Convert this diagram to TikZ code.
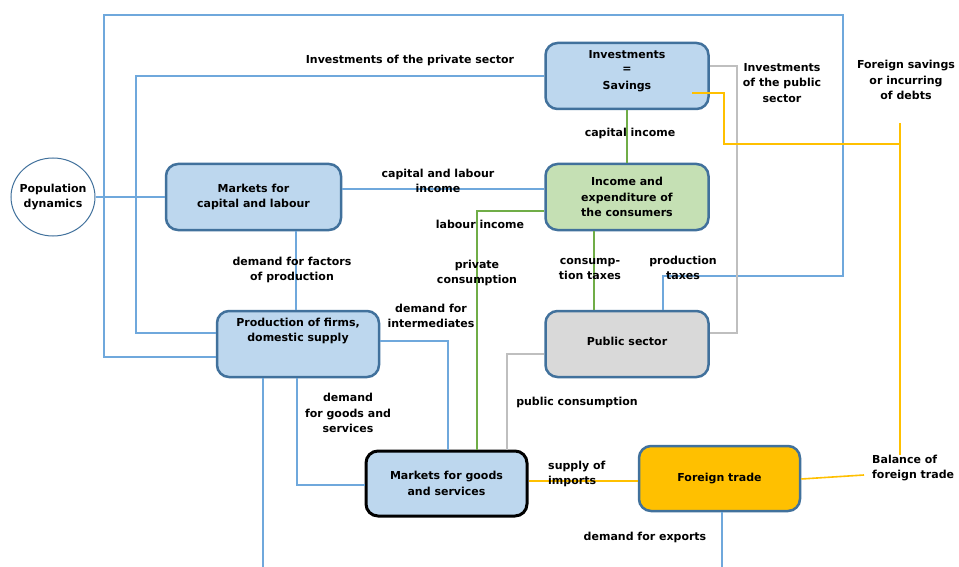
\documentclass[tikz,border=0pt]{standalone}
\usepackage{fontspec}
\setmainfont{DejaVu Sans}
\usetikzlibrary{shapes.geometric}
\definecolor{boxblue}{HTML}{BDD7EE}
\definecolor{edgeblue}{HTML}{41719C}
\definecolor{lineblue}{HTML}{6FA8DC}
\definecolor{boxgreen}{HTML}{C5E0B4}
\definecolor{linegreen}{HTML}{70AD47}
\definecolor{boxgray}{HTML}{D9D9D9}
\definecolor{linegray}{HTML}{BFBFBF}
\definecolor{orangebox}{HTML}{FFC000}
\begin{document}
\begin{tikzpicture}[x=1pt,y=-1pt,
  font=\fontsize{11}{15.5}\selectfont\bfseries,
  box/.style={draw=edgeblue, line width=2.5pt, rounded corners=12pt, align=center,
    minimum width=163pt, minimum height=66pt, inner sep=2pt},
  lbl/.style={align=center, inner sep=0pt},
  lbll/.style={align=left, inner sep=0pt, anchor=west},
  bl/.style={draw=lineblue, line width=1.6pt},
  gr/.style={draw=linegreen, line width=1.6pt},
  gy/.style={draw=linegray, line width=1.6pt},
  yl/.style={draw=orangebox, line width=1.6pt}]
\useasboundingbox (0,0) rectangle (959,567);
\fill[white] (0,0) rectangle (959,567);

% nodes
\node[ellipse, draw=edgeblue, line width=1pt, minimum width=84pt, minimum height=78pt, align=center, inner xsep=-5pt, inner ysep=0pt] (pop) at (53,197) {Population\\dynamics};
\node[box, fill=boxblue, minimum width=175pt] (mcl) at (253.5,197) {Markets for\\capital  and labour};
\node[box, fill=boxblue] (inv) at (627,76) {};
\node[lbl, font=\fontsize{11}{14}\selectfont\bfseries] (invtxt) at (627,71) {Investments\\=\\[3pt]Savings};
\node[box, fill=boxgreen] (inc) at (627,197) {Income and\\expenditure  of\\the consumers};
\node[box, fill=boxgray] (pub) at (627,344) {};
\node[lbl] (pubtxt) at (627,341) {Public sector};
\node[box, fill=boxblue, minimum width=162pt] (prod) at (298,344) {};
\node[lbl] (prodtxt) at (298,331) {Production of firms,\\domestic supply};
\node[box, fill=boxblue, draw=black, line width=3pt, minimum width=161pt, minimum height=65pt] (mgs) at (446.5,483.5) {Markets for goods\\and services};
\node[box, fill=orangebox, minimum width=161pt, minimum height=65pt] (ft) at (719.5,478.5) {Foreign trade};

% free ends
\coordinate (pbot) at (263,567);
\coordinate (ftbot) at (722,567);
\coordinate (bal) at (864,475);
\coordinate (invin) at (692,93);
\coordinate (fstop) at (900,123);
\coordinate (fsbot) at (900,455);

% blue connectors
\draw[bl] (pop.east) -- (mcl.west);
\draw[bl] (mcl.east |- 0,189) -- (inc.west |- 0,189);
\draw[bl] (mcl.south -| 296,0) -- (prod.north -| 296,0);
\draw[bl] (prod.west |- 0,333) -- (136,333) -- (136,76) -- (inv.west);
\draw[bl] (prod.west |- 0,357) -- (104,357) -- (104,15) -- (843,15) -- (843,276) -- (663,276) -- (pub.north -| 663,0);
\draw[bl] (prod.east |- 0,341) -- (448,341) -- (mgs.north -| 448,0);
\draw[bl] (prod.south -| 297,0) -- (297,485) -- (mgs.west |- 0,485);
\draw[bl] (prod.south -| 263,0) -- (pbot);
\draw[bl] (ft.south -| 722,0) -- (ftbot);

% green connectors
\draw[gr] (inv.south) -- (inc.north);
\draw[gr] (inc.west |- 0,211) -- (477,211) -- (mgs.north -| 477,0);
\draw[gr] (inc.south -| 594,0) -- (pub.north -| 594,0);

% gray connectors
\draw[gy] (inv.east |- 0,66) -- (737,66) -- (737,333) -- (pub.east |- 0,333);
\draw[gy] (pub.west |- 0,354) -- (507,354) -- (mgs.north -| 507,0);

% yellow connectors
\draw[yl] (mgs.east |- 0,481) -- (ft.west |- 0,481);
\draw[yl] (ft.east |- 0,479) -- (bal);
\draw[yl] (invin) -- (724,93) -- (724,144) -- (900,144);
\draw[yl] (fstop) -- (fsbot);

% labels
\node[lbl] (l1) at (410,60) {Investments  of the private sector};
\node[lbl] (l2) at (438,181) {capital  and labour\\income};
\node[lbl] (l3) at (480,224) {labour  income};
\node[lbl] (l4) at (477,273) {private\\consumption};
\node[lbl] (l5) at (292,270) {demand  for factors\\of production};
\node[lbl] (l6) at (431,316) {demand  for\\intermediates};
\node[lbl] (l7) at (348,413) {demand\\for goods and\\services};
\node[lbl] (l8) at (630,133) {capital  income};
\node[lbl] (l9) at (782,83) {Investments\\of the public\\sector};
\node[lbl] (l10) at (906,80) {Foreign  savings\\or incurring\\of debts};
\node[lbl] (l11) at (590,269) {consump-\\tion taxes};
\node[lbl] (l12) at (683,268) {production\\taxes};
\node[lbl] (l13) at (577,402) {public consumption};
\node[lbll] (l14) at (548,474) {supply  of\\imports};
\node[lbl] (l15) at (645,537) {demand  for exports};
\node[lbll] (l16) at (872,468) {Balance  of\\foreign trade};
\end{tikzpicture}
\end{document}
